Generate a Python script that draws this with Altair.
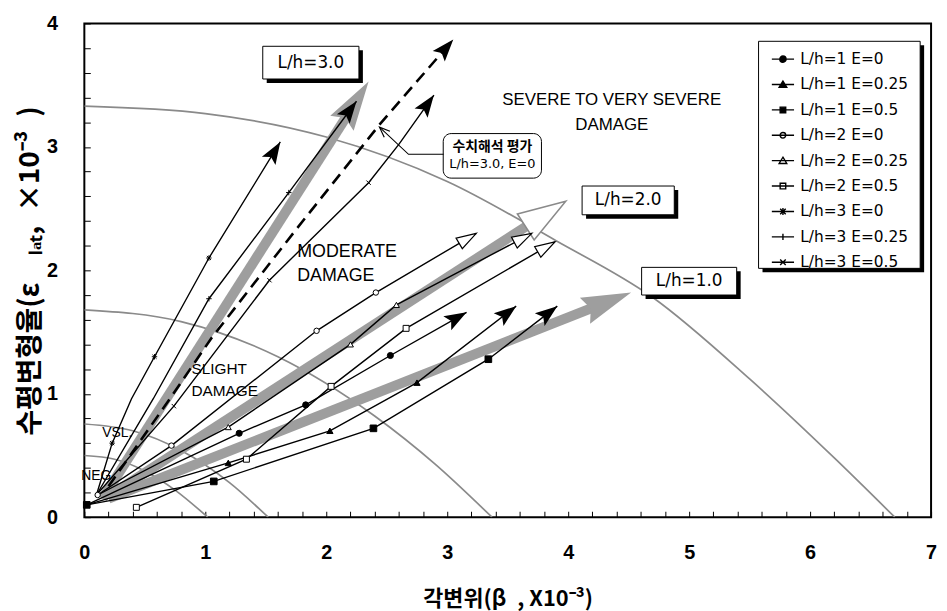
import math
import altair as alt
import pandas as pd

# ---------------- data ----------------
series_names = ["L/h=1 E=0", "L/h=1 E=0.25", "L/h=1 E=0.5",
                "L/h=2 E=0", "L/h=2 E=0.25", "L/h=2 E=0.5",
                "L/h=3 E=0", "L/h=3 E=0.25", "L/h=3 E=0.5"]

lh1_e0_x = [0.02, 1.28, 1.83, 2.53, 3.16]
lh1_e0_y = [0.10, 0.68, 0.91, 1.31, 1.66]
lh1_e0_m = [0, 1, 1, 1, 0]
lh1_e25_x = [0.02, 1.19, 2.03, 2.75, 3.57]
lh1_e25_y = [0.10, 0.44, 0.70, 1.09, 1.71]
lh1_e25_m = [0, 1, 1, 1, 0]
lh1_e5_x = [0.02, 1.07, 2.39, 3.34, 3.91]
lh1_e5_y = [0.10, 0.29, 0.72, 1.28, 1.71]
lh1_e5_m = [1, 1, 1, 1, 0]

lh2_e0_x = [0.11, 0.72, 1.92, 2.41, 3.24]
lh2_e0_y = [0.18, 0.58, 1.51, 1.82, 2.30]
lh2_e0_m = [1, 1, 1, 1, 0]
lh2_e25_x = [0.11, 1.19, 2.20, 2.58, 3.70]
lh2_e25_y = [0.18, 0.73, 1.40, 1.72, 2.30]
lh2_e25_m = [0, 1, 1, 1, 0]
lh2_e5_x = [0.43, 1.34, 2.04, 2.66, 3.89]
lh2_e5_y = [0.08, 0.47, 1.06, 1.53, 2.23]
lh2_e5_m = [1, 1, 1, 1, 0]

lh3_e0_x = [0.10, 0.23, 0.39, 0.58, 1.03, 1.62]
lh3_e0_y = [0.18, 0.60, 0.96, 1.30, 2.10, 3.04]
lh3_e0_m = [0, 1, 0, 1, 1, 0]
lh3_e25_x = [0.10, 0.57, 1.03, 1.69, 2.25]
lh3_e25_y = [0.18, 0.96, 1.77, 2.63, 3.37]
lh3_e25_m = [0, 0, 1, 1, 0]
lh3_e5_x = [0.10, 0.74, 1.53, 2.35, 2.60, 2.89]
lh3_e5_y = [0.18, 0.90, 1.92, 2.71, 3.02, 3.42]
lh3_e5_m = [0, 1, 1, 1, 0, 0]

# numerical analysis (dashed) L/h=3.0, E=0
num_x = [0.20, 0.70, 1.05, 1.75, 2.44, 3.05]
num_y = [0.25, 0.95, 1.45, 2.33, 3.18, 3.87]

# gray trend arrows: start, band end, tip
trend_names = ["L/h=1.0", "L/h=2.0", "L/h=3.0"]
trend_x0 = [0.20, 0.20, 0.15]
trend_y0 = [0.15, 0.17, 0.15]
trend_xb = [4.21, 3.66, 2.17]
trend_yb = [1.70, 2.36, 3.25]
trend_xt = [4.52, 3.98, 2.35]
trend_yt = [1.82, 2.56, 3.53]

# damage boundary curves
arc1_x = [0.0, 0.25, 0.50, 0.75, 1.02]
arc1_y = [0.50, 0.47, 0.375, 0.22, 0.0]
arc2_x = [0.0, 0.40, 0.80, 1.20, 1.52]
arc2_y = [0.755, 0.70, 0.54, 0.28, 0.0]
arc3_x = [0.0, 0.80, 1.60, 2.40, 2.90, 3.37]
arc3_y = [1.68, 1.585, 1.30, 0.82, 0.43, 0.0]
arc4_x = [0.0, 1.0, 2.0, 3.0, 3.9, 4.7, 5.5, 6.2, 6.7]
arc4_y = [3.33, 3.27, 3.08, 2.72, 2.24, 1.78, 1.12, 0.48, 0.0]

# leader line of the annotation
lead_x = [2.97, 2.68, 2.44]
lead_y = [2.94, 2.94, 3.16]

# zone labels
zone_text = ["SEVERE TO VERY SEVERE", "DAMAGE", "MODERATE", "DAMAGE",
             "SLIGHT", "DAMAGE", "VSL.", "NEG."]
zone_x = [4.36, 4.36, 1.76, 1.76, 0.885, 0.885, 0.148, -0.025]
zone_y = [3.38, 3.18, 2.15, 1.95, 1.20, 1.02, 0.683, 0.337]

# boxed labels
box_text = ["L/h=3.0", "L/h=2.0", "L/h=1.0"]
box_x1 = [1.475, 4.115, 4.607]
box_x2 = [2.27, 4.877, 5.393]
box_y1 = [3.55, 2.45, 1.80]
box_y2 = [3.815, 2.683, 2.024]

note_lines = ["수치해석 평가", "L/h=3.0, E=0"]
note_box = [2.967, 3.779, 2.747, 3.108]
note_y = [3.00, 2.865]

# ---------------- layout / styling ----------------
W, H = 854, 498
KX, KY = W / 7.0, H / 4.0
FONT = "DejaVu Sans"
AFONT = "Liberation Sans"
KFONT = "Noto Sans CJK KR"
GRAY = "#9e9e9e"
ARC = "#8a8a8a"
SP = "\u2002"


def ang(x0, y0, x1, y1):
    a = math.degrees(math.atan2(-(y1 - y0) * KY, (x1 - x0) * KX))
    return (a + 360.0) % 360.0


xs = alt.Scale(domain=[0, 7], nice=False, zero=False)
ys = alt.Scale(domain=[0, 4], nice=False, zero=False)
xticks = [round(0.2 * i, 1) for i in range(36)]
yticks = [round(0.2 * i, 1) for i in range(21)]
lab_expr = "abs(datum.value - round(datum.value)) < 0.01 ? format(datum.value, 'd') : ''"

xaxis = alt.Axis(values=xticks, labelExpr=lab_expr, title="각변위(β" + SP + ", X10⁻³)",
                 offset=-6, tickSize=6, domain=False, grid=False, labelPadding=26,
                 labelFlush=False, labelOverlap=False, titlePadding=26,
                 labelFont=AFONT, labelFontSize=20, labelFontWeight="bold",
                 titleFont=KFONT, titleFontSize=22, titleFontWeight="bold",
                 tickColor="black", tickWidth=1)
yaxis = alt.Axis(values=yticks, labelExpr=lab_expr,
                 title="수평변형율(ε" + SP + SP + "ₗₐₜ," + SP + "×10⁻³" + SP + ")",
                 offset=-6, tickSize=6, domain=False, grid=False, labelPadding=27,
                 labelFlush=False, labelOverlap=False, titlePadding=2,
                 labelFont=AFONT, labelFontSize=20, labelFontWeight="bold",
                 titleFont=KFONT, titleFontSize=28, titleFontWeight="bold",
                 tickColor="black", tickWidth=1)


def X(f="x"):
    return alt.X(f + ":Q", scale=xs, axis=xaxis)


def Y(f="y"):
    return alt.Y(f + ":Q", scale=ys, axis=yaxis)


# series table
series_x = [lh1_e0_x, lh1_e25_x, lh1_e5_x, lh2_e0_x, lh2_e25_x, lh2_e5_x, lh3_e0_x, lh3_e25_x, lh3_e5_x]
series_y = [lh1_e0_y, lh1_e25_y, lh1_e5_y, lh2_e0_y, lh2_e25_y, lh2_e5_y, lh3_e0_y, lh3_e25_y, lh3_e5_y]
series_m = [lh1_e0_m, lh1_e25_m, lh1_e5_m, lh2_e0_m, lh2_e25_m, lh2_e5_m, lh3_e0_m, lh3_e25_m, lh3_e5_m]

rows = []
for name, sx, sy, sm in zip(series_names, series_x, series_y, series_m):
    for i, (a, b, m) in enumerate(zip(sx, sy, sm)):
        rows.append({"series": name, "i": i, "x": a, "y": b, "m": m})
pts = pd.DataFrame(rows)

layers = []

# damage boundary curves
arc_rows = []
for k, (ax_, ay_) in enumerate([(arc1_x, arc1_y), (arc2_x, arc2_y), (arc3_x, arc3_y), (arc4_x, arc4_y)]):
    for i, (a, b) in enumerate(zip(ax_, ay_)):
        arc_rows.append({"arc": k, "i": i, "x": a, "y": b})
layers.append(alt.Chart(pd.DataFrame(arc_rows)).mark_line(
    color=ARC, strokeWidth=1.7, interpolate="monotone", clip=True).encode(
    x=X(), y=Y(), detail="arc:N", order="i:Q"))

# gray trend bands
band_rows = []
for n, a0, b0, a1, b1 in zip(trend_names, trend_x0, trend_y0, trend_xb, trend_yb):
    band_rows.append({"t": n, "i": 0, "x": a0, "y": b0})
    band_rows.append({"t": n, "i": 1, "x": a1, "y": b1})
layers.append(alt.Chart(pd.DataFrame(band_rows)).mark_line(
    color=GRAY, strokeWidth=10, strokeCap="butt").encode(
    x=X(), y=Y(), detail="t:N", order="i:Q"))

# gray trend heads
head_gray_solid = "M0,0L-2,-0.56L-1.75,0L-2,0.56Z"
head_gray_open = "M0,0L-2,-0.65L-2,0.65Z"
th = pd.DataFrame({"t": trend_names, "x": trend_xt, "y": trend_yt,
                   "a": [ang(a0, b0, a1, b1) for a0, b0, a1, b1 in zip(trend_x0, trend_y0, trend_xt, trend_yt)]})
layers.append(alt.Chart(th).transform_filter("datum.t != 'L/h=2.0'").mark_point(
    shape=head_gray_solid, filled=True, fill=GRAY, strokeWidth=0, size=2500, opacity=1).encode(
    x=X(), y=Y(), angle=alt.Angle("a:Q", scale=None)))
layers.append(alt.Chart(th).transform_filter("datum.t == 'L/h=2.0'").mark_point(
    shape=head_gray_open, filled=True, fill="white", stroke=ARC, strokeWidth=1.6, size=2304, opacity=1).encode(
    x=X(), y=Y(), angle=alt.Angle("a:Q", scale=None)))

# series lines
layers.append(alt.Chart(pts).mark_line(color="black", strokeWidth=1.4).encode(
    x=X(), y=Y(), detail="series:N", order="i:Q"))

# numerical (dashed) line
num_df = pd.DataFrame({"i": list(range(len(num_x))), "x": num_x, "y": num_y})
layers.append(alt.Chart(num_df).mark_line(color="black", strokeWidth=2.6, strokeDash=[12, 7]).encode(
    x=X(), y=Y(), order="i:Q"))

# markers
ASTER = "M-1,0H1M0,-1V1M-0.75,-0.75L0.75,0.75M-0.75,0.75L0.75,-0.75"
PLUS = "M0,-1V1M-1,0H1"
CROSS = "M-0.8,-0.8L0.8,0.8M-0.8,0.8L0.8,-0.8"
mstyle = {
    "L/h=1 E=0": dict(shape="circle", filled=True, fill="black", stroke="black", size=38),
    "L/h=1 E=0.25": dict(shape="triangle-up", filled=True, fill="black", stroke="black", size=40),
    "L/h=1 E=0.5": dict(shape="square", filled=True, fill="black", stroke="black", size=45),
    "L/h=2 E=0": dict(shape="circle", filled=True, fill="white", stroke="black", size=30),
    "L/h=2 E=0.25": dict(shape="triangle-up", filled=True, fill="white", stroke="black", size=36),
    "L/h=2 E=0.5": dict(shape="square", filled=True, fill="white", stroke="black", size=36),
    "L/h=3 E=0": dict(shape=ASTER, filled=False, stroke="black", size=30),
    "L/h=3 E=0.25": dict(shape=PLUS, filled=False, stroke="black", size=30),
    "L/h=3 E=0.5": dict(shape=CROSS, filled=False, stroke="black", size=30),
}
for name in series_names:
    st = mstyle[name]
    layers.append(alt.Chart(pts).transform_filter(
        alt.FieldEqualPredicate(field="series", equal=name)).transform_filter("datum.m == 1").mark_point(
        strokeWidth=1, opacity=1, **st).encode(x=X(), y=Y()))

# arrow heads of the series and of the dashed line
STEALTH = "M0,0L-2,-0.72L-1.6,0L-2,0.72Z"
OPENTRI = "M0,0L-2,-0.62L-2,0.62Z"
hrows = []
for name, sx, sy in zip(series_names, series_x, series_y):
    hrows.append({"k": "open" if name.startswith("L/h=2") else "solid",
                  "x": sx[-1], "y": sy[-1], "a": ang(sx[-2], sy[-2], sx[-1], sy[-1])})
hrows.append({"k": "solid", "x": num_x[-1], "y": num_y[-1], "a": ang(num_x[-2], num_y[-2], num_x[-1], num_y[-1])})
heads = pd.DataFrame(hrows)
layers.append(alt.Chart(heads).transform_filter("datum.k == 'solid'").mark_point(
    shape=STEALTH, filled=True, fill="black", strokeWidth=0, size=500, opacity=1).encode(
    x=X(), y=Y(), angle=alt.Angle("a:Q", scale=None)))
layers.append(alt.Chart(heads).transform_filter("datum.k == 'open'").mark_point(
    shape=OPENTRI, filled=True, fill="white", stroke="black", strokeWidth=1.2, size=400, opacity=1).encode(
    x=X(), y=Y(), angle=alt.Angle("a:Q", scale=None)))

# zone labels
zdf = pd.DataFrame({"t": zone_text, "x": zone_x, "y": zone_y,
                    "al": ["center", "center", "left", "left", "left", "left", "left", "left"],
                    "fs": [17, 17, 18, 18, 15.5, 15.5, 14, 14]})
for al in ["center", "left"]:
    for fs in sorted(set(zdf["fs"])):
        sub = zdf[(zdf["al"] == al) & (zdf["fs"] == fs)]
        if len(sub) == 0:
            continue
        layers.append(alt.Chart(sub).mark_text(
            align=al, baseline="middle", font=AFONT, fontSize=fs, color="black").encode(
            x=X(), y=Y(), text="t:N"))

# boxed labels with shadow
bdf = pd.DataFrame({"t": box_text, "x1": box_x1, "x2": box_x2, "y1": box_y1, "y2": box_y2,
                    "cx": [(a + b) / 2 for a, b in zip(box_x1, box_x2)],
                    "cy": [(a + b) / 2 for a, b in zip(box_y1, box_y2)]})
layers.append(alt.Chart(bdf).mark_rect(color="black", xOffset=4, x2Offset=4, yOffset=4, y2Offset=4).encode(
    x=X("x1"), x2="x2:Q", y=Y("y1"), y2="y2:Q"))
layers.append(alt.Chart(bdf).mark_rect(fill="white", stroke="black", strokeWidth=1).encode(
    x=X("x1"), x2="x2:Q", y=Y("y1"), y2="y2:Q"))
layers.append(alt.Chart(bdf).mark_text(font=FONT, fontSize=17, color="black", baseline="middle").encode(
    x=X("cx"), y=Y("cy"), text="t:N"))

# annotation note (rounded box) with leader arrow
ndf = pd.DataFrame({"x1": [note_box[0]], "x2": [note_box[1]], "y1": [note_box[2]], "y2": [note_box[3]]})
layers.append(alt.Chart(ndf).mark_rect(fill="white", stroke="black", strokeWidth=1, cornerRadius=8).encode(
    x=X("x1"), x2="x2:Q", y=Y("y1"), y2="y2:Q"))
ntx = pd.DataFrame({"t": note_lines, "x": [(note_box[0] + note_box[1]) / 2] * 2, "y": note_y})
layers.append(alt.Chart(ntx.iloc[[0]]).mark_text(font=KFONT, fontSize=14, fontWeight="bold",
                                                  color="black", baseline="middle").encode(
    x=X(), y=Y(), text="t:N"))
layers.append(alt.Chart(ntx.iloc[[1]]).mark_text(font=FONT, fontSize=13, color="black", baseline="middle").encode(
    x=X(), y=Y(), text="t:N"))
ldf = pd.DataFrame({"i": [0, 1, 2], "x": lead_x, "y": lead_y})
layers.append(alt.Chart(ldf).mark_line(color="black", strokeWidth=1.1).encode(x=X(), y=Y(), order="i:Q"))
VHEAD = "M-2,-0.8L0,0L-2,0.8"
lh = pd.DataFrame({"x": [lead_x[-1]], "y": [lead_y[-1]], "a": [ang(lead_x[-2], lead_y[-2], lead_x[-1], lead_y[-1])]})
layers.append(alt.Chart(lh).mark_point(shape=VHEAD, filled=False, stroke="black", strokeWidth=1.2,
                                       size=110, opacity=1).encode(
    x=X(), y=Y(), angle=alt.Angle("a:Q", scale=None)))

# legend frame and shadow (pixel placement of the legend box)
LX1, LX2, LY1, LY2 = 680, 843, 18, 247
frame = pd.DataFrame({"k": [0]})
layers.append(alt.Chart(frame).mark_rect(color="black").encode(
    x=alt.value(LX1 + 4), x2=alt.value(LX2 + 4), y=alt.value(LY1 + 4), y2=alt.value(LY2 + 4)))
layers.append(alt.Chart(frame).mark_rect(fill="white", stroke="black", strokeWidth=1).encode(
    x=alt.value(LX1), x2=alt.value(LX2), y=alt.value(LY1), y2=alt.value(LY2)))

# legend (symbols = line with marker)
leg_paths = [
    "M0.2,0H3.4M2.25,0A0.45,0.45,0,1,1,1.35,0A0.45,0.45,0,1,1,2.25,0Z",
    "M0.2,0H3.4M1.8,-0.5L2.35,0.4L1.25,0.4Z",
    "M0.2,0H3.4M1.4,-0.4H2.2V0.4H1.4Z",
    "M0.2,0H3.4M2.2,0A0.4,0.4,0,1,1,1.4,0A0.4,0.4,0,1,1,2.2,0Z",
    "M0.2,0H3.4M1.8,-0.5L2.35,0.4L1.25,0.4Z",
    "M0.2,0H3.4M1.4,-0.4H2.2V0.4H1.4Z",
    "M0.2,0H3.4M1.4,-0.4L2.2,0.4M1.4,0.4L2.2,-0.4M1.8,-0.5V0.5",
    "M0.2,0H3.4M1.8,-0.45V0.45",
    "M0.2,0H3.4M1.4,-0.4L2.2,0.4M1.4,0.4L2.2,-0.4",
]
leg_fill = ["black", "black", "black", "white", "white", "white", "black", "black", "black"]
leg_stroke = ["black"] * 9
leg = alt.Legend(title=None, orient="none", legendX=684, legendY=28, padding=0,
                 labelFont=FONT, labelFontSize=15.5, labelColor="black", labelOffset=22,
                 symbolSize=196, symbolStrokeColor="black", symbolStrokeWidth=1.4,
                 rowPadding=8.6, labelLimit=300)
ldum = pd.DataFrame({"series": series_names, "x": [-1.0] * 9, "y": [-1.0] * 9})
layers.append(alt.Chart(ldum).mark_point(clip=True, filled=True, strokeWidth=1.4,
                                         opacity=1).encode(
    x=X(), y=Y(),
    shape=alt.Shape("series:N", scale=alt.Scale(domain=series_names, range=leg_paths), legend=leg),
    fill=alt.Fill("series:N", scale=alt.Scale(domain=series_names, range=leg_fill), legend=leg),
    stroke=alt.Stroke("series:N", scale=alt.Scale(domain=series_names, range=leg_stroke), legend=leg),
))

chart = alt.layer(*layers).properties(
    width=W, height=H,
    autosize=alt.AutoSizeParams(type="none"),
    padding={"left": 77, "top": 13, "right": 8, "bottom": 92},
).configure_view(stroke="black", strokeWidth=2)

chart.save("out.html", embed_options={"renderer": "svg", "actions": False})
